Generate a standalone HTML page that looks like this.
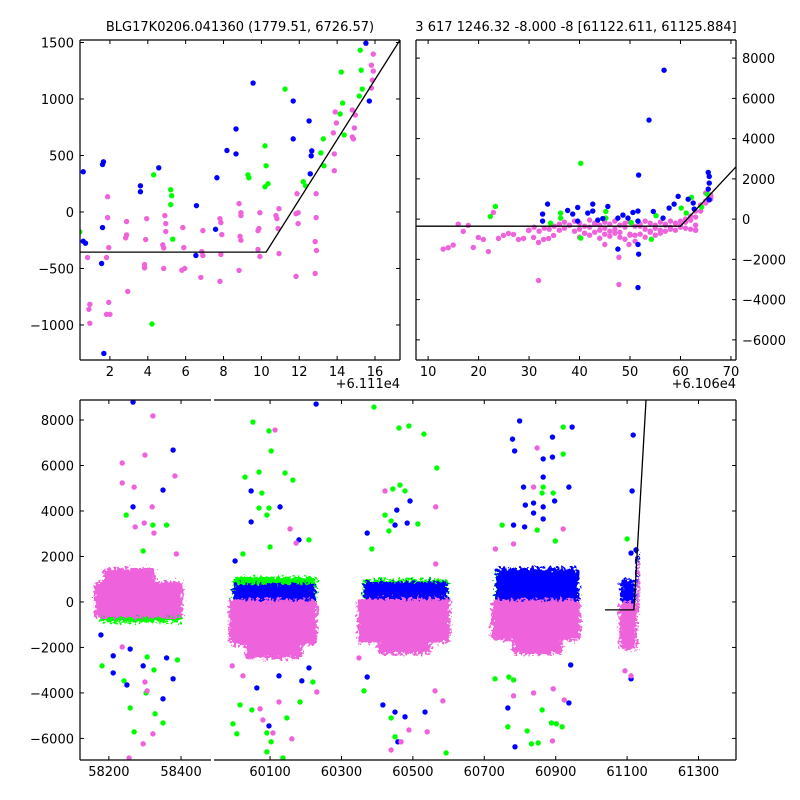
<!DOCTYPE html>
<html><head><meta charset="utf-8"><style>
html,body{margin:0;padding:0;background:#fff;}
svg{display:block;font-family:"DejaVu Sans","Liberation Sans",sans-serif;}
</style></head><body>
<svg id="chart" width="800" height="800" viewBox="0 0 800 800" xmlns="http://www.w3.org/2000/svg">
<defs>
<filter id="fuzz" x="-20%" y="-20%" width="140%" height="140%">
<feTurbulence type="fractalNoise" baseFrequency="0.35" numOctaves="2" seed="3" result="n"/>
<feDisplacementMap in="SourceGraphic" in2="n" scale="12" xChannelSelector="R" yChannelSelector="G"/>
</filter>
</defs>
<rect width="800" height="800" fill="#fff"/>
<text x="240" y="31" font-size="13" text-anchor="middle">BLG17K0206.041360 (1779.51, 6726.57)</text>
<text x="576" y="31" font-size="13" text-anchor="middle">3 617 1246.32 -8.000 -8 [61122.611, 61125.884]</text>
</svg>
<script>
// ---------- data ----------
const tlBlueX=[0.59,1.61,1.66,1.61,0.59,0.71,1.56,1.68,3.61,3.61,4.58,6.57,7.58,6.54,7.65,8.18,8.66,8.66,9.56,11.68,11.68,12.52,12.66,12.63,12.58,15.52,15.70];
const tlBlueY=[356,420,444,-138,-259,-276,-456,-1252,232,179,391,56,-153,-385,303,544,514,735,1141,982,647,806,541,497,338,1494,982];
const tlGreenX=[0.41,4.31,4.22,5.21,5.26,5.21,5.32,9.29,9.34,10.19,10.25,10.19,10.35,11.25,12.21,12.33,13.14,13.27,13.30,14.16,14.22,14.29,14.37,15.17,15.22,15.27,15.33];
const tlGreenY=[-176,329,-991,197,144,65,-241,329,303,585,409,223,250,1088,268,232,523,647,409,867,1238,964,682,1026,1432,1255,1088];
const tlPinkX=[0.82,0.89,0.94,0.94,1.88,1.88,1.94,1.82,1.82,2.00,1.94,2.88,2.88,2.83,2.94,3.94,3.89,3.83,3.83,4.90,4.95,4.95,4.79,4.84,4.84,5.85,5.90,5.80,5.95,6.80,6.91,6.85,6.91,7.81,7.86,7.91,7.86,7.81,8.82,8.92,8.92,8.87,8.92,8.82,9.82,9.87,9.92,9.82,9.92,10.77,10.82,10.88,10.93,10.93,11.83,11.94,11.88,11.94,11.83,12.84,12.91,12.84,12.89,12.89,13.85,13.85,13.80,13.96,13.90,14.80,14.91,14.80,14.86,14.96,15.81,15.86,15.81,15.91,15.91];
const tlPinkY=[-403,-861,-817,-985,135,-50,-315,-403,-906,-906,-800,-85,-203,-229,-703,-59,-244,-465,-494,-32,-103,-173,-291,-318,-500,-138,-315,-515,-500,-579,-165,-350,-385,-614,-376,-200,-94,-59,74,-6,-32,-215,-250,-517,-165,-147,-6,-332,-394,-32,-59,-147,29,-368,-15,-6,162,-103,-570,-262,-341,-544,-50,162,514,365,700,788,885,903,744,664,647,858,1097,1167,1299,1247,1397];
const tlLineX=[0.42,10.25,17.32];
const tlLineY=[-355,-355,1522];

const trBlueX=[56.75,53.77,51.71,32.68,32.68,33.67,37.65,38.65,39.64,39.64,41.63,42.62,42.62,43.62,44.61,45.61,47.6,48.6,49.59,50.58,51.58,51.58,51.58,51.71,51.58,47.6,54.62,56.55,57.75,58.74,59.54,61.53,62.52,62.72,65.5,65.7,65.7,65.5,65.7];
const trBlueY=[7400,4920,2190,250,-100,745,430,250,580,-100,300,745,400,-50,30,630,50,200,50,330,400,-100,-1260,-1740,-3400,-1490,380,50,550,745,1130,990,800,500,2320,2120,1790,1490,960];
const trGreenX=[40.24,23.33,22.33,36.25,36.25,34.26,40.24,45.21,45.21,54.23,55.16,60.14,61.13,62.19,64.18,65.31,50.25];
const trGreenY=[2770,630,130,300,50,-200,-940,380,50,-1000,170,550,300,1080,600,1240,-170];
const trPinkX=[12.98,13.98,14.97,15.97,16.96,17.96,18.95,19.95,20.94,21.94,22.93,23.93,24.92,25.92,26.91,27.9,28.9,29.89,30.89,31.88,31.88,32.88,33.87,34.87,47.8,47.8,45.01,49.79,
30,31,32,33,34,35,36,37,38,39,40,41,42,43,44,45,46,47,48,49,50,51,52,53,54,55,56,57,58,59,60,61,62,63,64,65,66,
36,37,38,39,40,41,42,43,44,45,46,47,48,49,50,51,52,53,54,55,56,57,58,59,60,61,62,
40,41,42,43,44,45,46,47,48,49,50,51,52,53,54,55,56,57,58,59,60,61,62,63,
63,63,63,64,64,65,66,66,65];
const trPinkY=[-1490,-1420,-1290,-250,-610,-310,-1410,-910,-1010,-1610,330,-960,-810,-710,-760,-1010,-960,-560,-910,-1160,-3050,-1010,-960,-810,-3250,-1900,-1260,-1260,
-550,-400,-600,-450,-500,-350,-550,-450,-300,-600,-500,-700,-400,-250,-550,-450,-600,-500,-650,-400,-750,-800,-350,-500,-600,-450,-550,-300,-400,-200,-100,0,150,400,700,900,1100,
-250,-150,-300,-100,-200,-350,-50,-200,-300,-150,-250,-100,-300,-200,-150,-350,-250,-100,-200,-300,-150,-250,-100,-200,-300,-150,-50,
-900,-700,-800,-650,-950,-750,-850,-700,-900,-1000,-800,-1100,-750,-900,-650,-800,-700,-600,-500,-550,-400,-450,-500,-550,
-550,-300,100,400,700,800,1000,1200,1300];
const trLineX=[7.6,60,71];
const trLineY=[-350,-350,2600];

// bottom panel: dense season clusters
const blobX0=[58175,58165,58160,58185, 59995,59997,59985,60030, 60360,60362,60345,60400, 60730,60732,60720,60780, 61082,61078,61125,61127];
const blobX1=[58400,58400,58405,58330, 60230,60228,60232,60190, 60600,60598,60605,60550, 60965,60965,60970,60920, 61122,61128,61135,61135];
const blobY0=[-900,-700,-700,500, -500,-300,-1900,-2500, -500,-200,-1800,-2300, 0,-300,-1700,-2300, -300,-2100,0,-500];
const blobY1=[200,500,900,1500, 1100,800,100,-1500, 1000,900,150,-1500, 1400,1500,100,-1500, 1000,0,2200,1800];
const blobC=['g','b','m','m', 'g','b','m','m', 'g','b','m','m', 'g','b','m','m', 'b','m','b','m'];

const bBlueX=[58267,58378,58350,58267,58178,58212,58212,58250,58378,58350,58295,58360,58259,
60047,60128,60047,60002,60181,60229,60063,60097,60125,60209,60189,
60372,60492,60455,60450,60484,60416,60450,60478,60458,60534,60372,
60799,60779,60785,60891,60891,60865,60946,60865,60810,60937,60815,60838,60897,60865,60838,60865,60782,60813,60786,60766,60937,60942,
61117,61114,61111,61125,61105,61111];
const bBlueY=[8790,6680,4920,4180,-1450,-2370,-3120,-3650,-3380,-4260,-2810,-2460,-2070,
4880,4180,3520,1800,2730,8700,-3780,-5450,-3250,-2900,-3470,
3030,4440,4040,3380,3470,-4530,-4840,-5050,-6150,-4840,-3300,
7960,7160,6640,7250,6370,6290,7690,5490,5050,5050,4260,4350,4440,4180,3910,3650,3380,3300,-6370,-4660,-4440,-2770,
7340,4880,2150,2290,-1540,-3380];
const bGreenX=[58248,58295,58360,58322,58259,58270,58328,58350,58181,58242,58303,58325,58390,58306,
60052,60097,60103,60069,60030,60077,60142,60164,60069,60097,60091,60100,60024,60209,59996,60007,60016,60049,60091,60103,60147,60184,60220,60091,60136,
60391,60461,60489,60531,60567,60464,60444,60478,60422,60439,60433,60385,60514,60363,60439,60450,60593,
60750,60865,60862,60921,60921,60893,60848,60899,60730,60769,60782,60862,60888,60902,60918,60820,60832,60851,60766,
61100];
const bGreenY=[3820,2240,3380,3380,-4660,-5710,-4920,-5320,-2810,-3470,-4000,-2990,-2550,-2420,
7910,7520,6640,5710,5490,4790,5670,5360,4130,4130,3820,2420,2110,2730,-5360,-5800,-4530,-4750,-5760,-6150,-5100,-4400,-3520,-6590,-6860,
8570,7650,7740,7380,5890,5140,4970,4880,3820,3560,3120,2330,3430,-3910,-5100,-5930,-6640,
3380,5050,4790,7690,6500,4790,3160,2680,-3380,-3300,-3430,-4750,-5320,-5360,-5490,-5670,-6240,-6200,-5490,
2770];
const bPinkX=[58322,58237,58300,58383,58237,58270,58320,58298,58273,58325,58387,58237,58300,58306,58322,58295,58256,
60114,60156,60173,60072,60080,60108,60161,60125,60231,60024,59994,
60422,60564,60564,60349,60439,60467,60489,60540,60584,60562,
60848,60838,60921,60782,60731,60891,60782,60893,60924,60838,
61094,61111,61111];
const bPinkY=[8180,6110,6460,5540,5230,5050,4180,3470,3300,3030,2110,-1980,-3520,-3910,-5800,-6240,-6860,
7560,3210,2590,-4700,-5190,-5760,-6020,-4400,-3960,-3250,-2810,
4880,4180,1670,-2460,-6510,-6150,-5630,-5710,-4350,-3910,
6770,5050,3210,2550,2330,-6110,-4130,-3820,-4310,-4000,
-3030,-3250,-1890];
const bLineX=[61038,61119,61153];
const bLineY=[-350,-350,8880];

const tlXTicks=[2,4,6,8,10,12,14,16];
const tlYTicks=[-1000,-500,0,500,1000,1500];
const trXTicks=[10,20,30,40,50,60,70];
const trYTicks=[-6000,-4000,-2000,0,2000,4000,6000,8000];
const blXTicks=[58200,58400];
const brXTicks=[60100,60300,60500,60700,60900,61100,61300];
const bYTicks=[-6000,-4000,-2000,0,2000,4000,6000,8000];

// ---------- drawing ----------
const NS='http://www.w3.org/2000/svg';
const svg=document.getElementById('chart');
const COL={b:'#0000ff',g:'#00ff00',m:'#ee62dc'};
function mk(tag,attrs,parent){const e=document.createElementNS(NS,tag);for(const k in attrs)e.setAttribute(k,attrs[k]);(parent||svg).appendChild(e);return e;}
function panel(p,name){
  p.sx=v=>p.x0+(v-p.xmin)/(p.xmax-p.xmin)*(p.x1-p.x0);
  p.sy=v=>p.y1-(v-p.ymin)/(p.ymax-p.ymin)*(p.y1-p.y0);
  const cp=mk('clipPath',{id:'clip-'+name});
  mk('rect',{x:p.x0,y:p.y0,width:p.x1-p.x0,height:p.y1-p.y0},cp);
  const g=mk('g',{'clip-path':'url(#clip-'+name+')'});
  
  
  p.g=g;return p;
}
function dots(p,xs,ys,col,name){
  for(let i=0;i<xs.length;i++){
    const c=mk('circle',{cx:p.sx(xs[i]),cy:p.sy(ys[i]),r:2.7,fill:col},p.g);
    
    
  }
}
function line(p,xs,ys,name){
  const d=xs.map((x,i)=>(i?'L':'M')+p.sx(x)+' '+p.sy(ys[i])).join(' ');
  const l=mk('path',{d:d,fill:'none',stroke:'#000','stroke-width':1.3},p.g);
  
  
}
function frame(p,sides,name){
  const segs={l:[p.x0,p.y0,p.x0,p.y1],r:[p.x1,p.y0,p.x1,p.y1],t:[p.x0,p.y0,p.x1,p.y0],b:[p.x0,p.y1,p.x1,p.y1]};
  for(const s of sides){const a=segs[s];
    const l=mk('line',{x1:a[0],y1:a[1],x2:a[2],y2:a[3],stroke:'#000','stroke-width':1.2});
    
    }
}
function xticks(p,ticks,name){
  for(const v of ticks){const x=p.sx(v);
    mk('line',{x1:x,y1:p.y1,x2:x,y2:p.y1-4,stroke:'#000'});
    mk('line',{x1:x,y1:p.y0,x2:x,y2:p.y0+4,stroke:'#000'});
    const t=mk('text',{x:x,y:p.y1+16,'font-size':13,'text-anchor':'middle'});
    t.textContent=String(v);
    
    }
}
function yticks(p,ticks,name,left,right,labelSide){
  for(const v of ticks){const y=p.sy(v);
    if(left)mk('line',{x1:p.x0,y1:y,x2:p.x0+4,y2:y,stroke:'#000'});
    if(right)mk('line',{x1:p.x1,y1:y,x2:p.x1-4,y2:y,stroke:'#000'});
    if(labelSide){const lx=labelSide==='l'?p.x0-6:p.x1+6;
      const t=mk('text',{x:lx,y:y+5,'font-size':13,'text-anchor':labelSide==='l'?'end':'start'});
      t.textContent=v<0?'\u2212'+Math.abs(v):String(v);
      
      }}
}

const TL=panel({x0:80,x1:400,y0:40,y1:360,xmin:0.42,xmax:17.32,ymin:-1310,ymax:1522},'top-left');
dots(TL,tlBlueX,tlBlueY,COL.b,'top-left-blue');
dots(TL,tlGreenX,tlGreenY,COL.g,'top-left-green');
dots(TL,tlPinkX,tlPinkY,COL.m,'top-left-magenta');
line(TL,tlLineX,tlLineY,'top-left-model-line');
frame(TL,'lrtb','top-left');
xticks(TL,tlXTicks,'top-left');yticks(TL,tlYTicks,'top-left',true,true,'l');

const TR=panel({x0:416,x1:736,y0:40,y1:360,xmin:7.6,xmax:71,ymin:-7000,ymax:8900},'top-right');
dots(TR,trPinkX,trPinkY,COL.m,'top-right-magenta');
dots(TR,trGreenX,trGreenY,COL.g,'top-right-green');
dots(TR,trBlueX,trBlueY,COL.b,'top-right-blue');
line(TR,trLineX,trLineY,'top-right-model-line');
frame(TR,'lrtb','top-right');
xticks(TR,trXTicks,'top-right');yticks(TR,trYTicks,'top-right',true,true,'r');

const BL=panel({x0:80,x1:211,y0:400,y1:760,xmin:58120,xmax:58483,ymin:-6950,ymax:8880},'bottom-left');
const BR=panel({x0:214,x1:736,y0:400,y1:760,xmin:59943,xmax:61405,ymin:-6950,ymax:8880},'bottom-right');
function bottomBlobs(col){
  for(let i=0;i<blobX0.length;i++){ if(blobC[i]!==col)continue;
    const p=blobX0[i]<59000?BL:BR;
    const x=p.sx(blobX0[i]),x2=p.sx(blobX1[i]),y=p.sy(blobY1[i]),y2=p.sy(blobY0[i]);
    const r=mk('rect',{x:x,y:y,width:x2-x,height:y2-y,rx:Math.min(4,(x2-x)/2),fill:COL[col],filter:'url(#fuzz)'},p.g);
    
    }
}
function bottomDots(xs,ys,col,name){
  const lx=[],ly=[],rx=[],ry=[];
  xs.forEach((x,i)=>{if(x<59000){lx.push(x);ly.push(ys[i]);}else{rx.push(x);ry.push(ys[i]);}});
  dots(BL,lx,ly,col,name);dots(BR,rx,ry,col,name);
}
bottomBlobs('g');bottomDots(bGreenX,bGreenY,COL.g,'bottom-green');
bottomBlobs('b');bottomDots(bBlueX,bBlueY,COL.b,'bottom-blue');
bottomBlobs('m');bottomDots(bPinkX,bPinkY,COL.m,'bottom-magenta');
line(BR,bLineX,bLineY,'bottom-model-line');
frame(BL,'ltb','bottom-left');frame(BR,'rtb','bottom-right');
xticks(BL,blXTicks,'bottom-left');xticks(BR,brXTicks,'bottom-right');
yticks(BL,bYTicks,'bottom-left',true,false,'l');yticks(BR,bYTicks,'bottom-right',false,true,null);

function offText(x,y,s,name){const t=mk('text',{x:x,y:y,'font-size':13,'text-anchor':'end'});t.textContent=s;
  
  }
offText(400,388,'+6.111e4','top-left-x-offset');
offText(736,388,'+6.106e4','top-right-x-offset');
</script>
</body></html>
